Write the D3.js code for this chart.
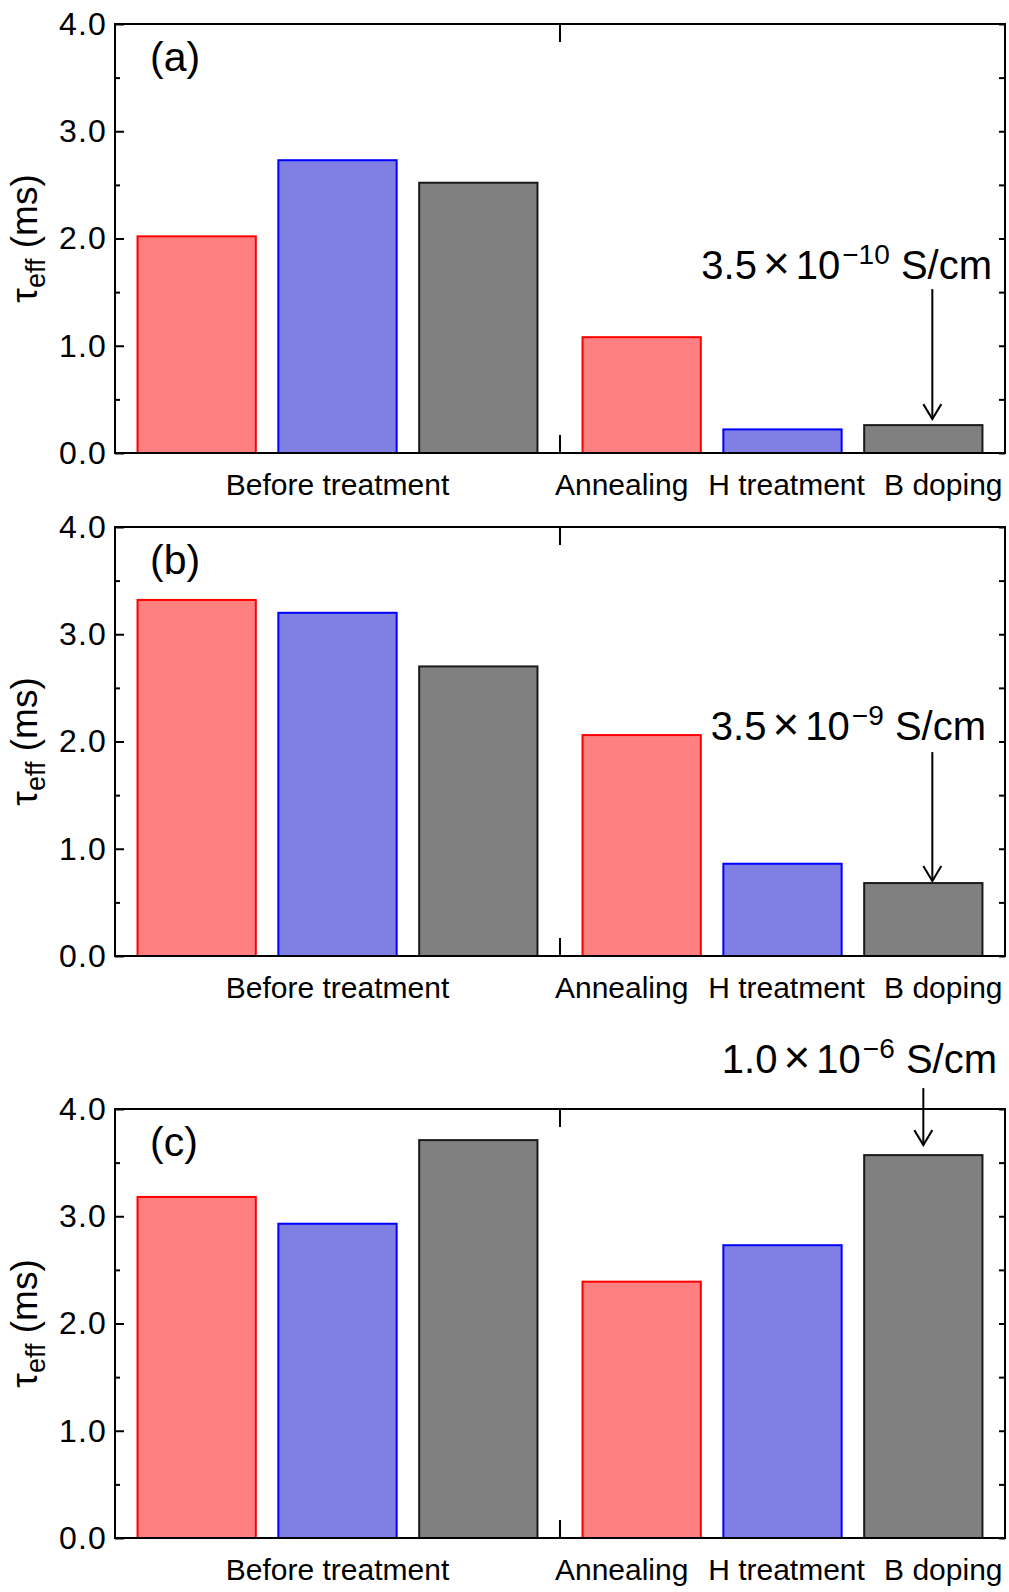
<!DOCTYPE html>
<html>
<head>
<meta charset="utf-8">
<script src="https://cdn.jsdelivr.net/npm/d3@7"></script>
<style>
  html, body { margin: 0; padding: 0; background: #fff; }
  svg { display: block; font-family: "Liberation Sans", Arial, sans-serif; }
</style>
</head>
<body>
<svg id="chart" width="1009" height="1592"></svg>
<script>
// ---------- data ----------
const panelLabels = ["(a)", "(b)", "(c)"];
const groupLabels = ["Before treatment", "After"];
const treatmentLabels = ["Annealing", "H treatment", "B doping"];
const beforeValues = [
  [2.02, 2.73, 2.52],
  [3.32, 3.20, 2.70],
  [3.18, 2.93, 3.71]
];
const afterValues = [
  [1.08, 0.22, 0.26],
  [2.06, 0.86, 0.68],
  [2.39, 2.73, 3.57]
];
const yTickValues = [0, 1, 2, 3, 4];
const yMinorValues = [0.5, 1.5, 2.5, 3.5];
const annotationMantissa = ["3.5", "3.5", "1.0"];
const annotationExponent = ["\u221210", "\u22129", "\u22126"];
const annotationUnit = "S/cm";

// ---------- style / layout ----------
const fills = ["#FF8080", "#8080E4", "#808080"];
const strokes = ["#FF0000", "#0000FF", "#1a1a1a"];
const panelTops = [24, 527, 1109];
const panelH = 429;
const left = 115, right = 1005;
const arrowLayout = [
  { dx: 9, len: 130, gap: 6, textY: 279, textRight: 992 },
  { dx: 9, len: 129, gap: 2, textY: 740, textRight: 986 },
  { dx: 0, len: 57, gap: 10, textY: 1073, textRight: 997 }
];
const labelDx = [-20, 4, 20];

const svg = d3.select("#chart");
svg.append("rect").attr("width", 1009).attr("height", 1592).attr("fill", "#fff");

const xGroup = d3.scaleBand().domain(groupLabels).range([left, right]).padding(0);
const xInner = d3.scaleBand().domain([0, 1, 2]).range([0, xGroup.bandwidth()]).padding(0.16);
const mid = xGroup(groupLabels[1]);

panelLabels.forEach((pl, p) => {
  const top = panelTops[p], bottom = top + panelH;
  const y = d3.scaleLinear().domain([0, 4]).range([bottom, top]);
  const g = svg.append("g");

  // bars
  const rows = [];
  beforeValues[p].forEach((v, i) => rows.push({ grp: groupLabels[0], i, v }));
  afterValues[p].forEach((v, i) => rows.push({ grp: groupLabels[1], i, v }));
  g.selectAll("rect.bar").data(rows).join("rect")
    .attr("class", "bar")
    .attr("x", d => xGroup(d.grp) + xInner(d.i))
    .attr("width", xInner.bandwidth())
    .attr("y", d => y(d.v))
    .attr("height", d => y(0) - y(d.v))
    .attr("fill", d => fills[d.i])
    .attr("stroke", d => strokes[d.i])
    .attr("stroke-width", 2);

  // frame
  g.append("rect").attr("x", left).attr("y", top)
    .attr("width", right - left).attr("height", panelH)
    .attr("fill", "none").attr("stroke", "#000").attr("stroke-width", 2);

  // left axis (major, labelled)
  const axL = d3.axisLeft(y).tickValues(yTickValues).tickFormat(d3.format(".1f"))
    .tickSizeInner(-9).tickSizeOuter(0).tickPadding(8);
  const gl = g.append("g").attr("transform", `translate(${left},0)`).call(axL);
  gl.select(".domain").remove();
  gl.selectAll("line").attr("stroke", "#000").attr("stroke-width", 2);
  gl.selectAll("text").attr("font-size", 32).attr("letter-spacing", 1.2)
    .attr("fill", "#000").attr("font-family", "Liberation Sans, Arial, sans-serif");
  const glm = g.append("g").attr("transform", `translate(${left},0)`)
    .call(d3.axisLeft(y).tickValues(yMinorValues).tickFormat("").tickSizeInner(-5).tickSizeOuter(0));
  glm.select(".domain").remove();
  glm.selectAll("line").attr("stroke", "#000").attr("stroke-width", 2);

  // right axis ticks
  const gr = g.append("g").attr("transform", `translate(${right},0)`)
    .call(d3.axisRight(y).tickValues(yTickValues.concat(yMinorValues)).tickFormat("").tickSizeInner(-6).tickSizeOuter(0));
  gr.select(".domain").remove();
  gr.selectAll("line").attr("stroke", "#000").attr("stroke-width", 2);

  // centre ticks top & bottom
  g.append("line").attr("x1", mid).attr("x2", mid).attr("y1", bottom).attr("y2", bottom - 18)
    .attr("stroke", "#000").attr("stroke-width", 2);
  g.append("line").attr("x1", mid).attr("x2", mid).attr("y1", top).attr("y2", top + 18)
    .attr("stroke", "#000").attr("stroke-width", 2);

  // x labels
  g.append("text").attr("x", xGroup(groupLabels[0]) + xGroup.bandwidth() / 2).attr("y", bottom + 42)
    .attr("text-anchor", "middle").attr("font-size", 30).text(groupLabels[0]);
  treatmentLabels.forEach((t, i) => {
    g.append("text")
      .attr("x", xGroup(groupLabels[1]) + xInner(i) + xInner.bandwidth() / 2 + labelDx[i])
      .attr("y", bottom + 42).attr("text-anchor", "middle").attr("font-size", 30).text(t);
  });

  // panel label
  g.append("text").attr("x", 150).attr("y", top + 47).attr("font-size", 41).text(pl);

  // y label
  const yl = g.append("text")
    .attr("transform", `translate(37,${(top + bottom) / 2}) rotate(-90)`)
    .attr("text-anchor", "middle").attr("font-size", 37);
  yl.append("tspan").text("\u03C4");
  yl.append("tspan").attr("font-size", 27).attr("dy", 8).text("eff");
  yl.append("tspan").attr("dy", -8).text(" (ms)");

  // annotation
  const a = arrowLayout[p];
  const bx = xGroup(groupLabels[1]) + xInner(2) + xInner.bandwidth() / 2 + a.dx;
  const tipY = y(afterValues[p][2]) - a.gap;
  g.append("line").attr("x1", bx).attr("x2", bx).attr("y1", tipY - a.len).attr("y2", tipY)
    .attr("stroke", "#000").attr("stroke-width", 2);
  g.append("path")
    .attr("d", `M${bx - 9},${tipY - 15} L${bx},${tipY} L${bx + 9},${tipY - 15}`)
    .attr("fill", "none").attr("stroke", "#000").attr("stroke-width", 2);

  const at = g.append("text").attr("x", a.textRight).attr("y", a.textY)
    .attr("text-anchor", "end").attr("font-size", 40);
  at.append("tspan").text(annotationMantissa[p]);
  at.append("tspan").attr("font-size", 46).attr("dx", 6).text("\u00D7");
  at.append("tspan").attr("dx", 6).text("10");
  at.append("tspan").attr("font-size", 28).attr("dy", -15).attr("dx", 2).text(annotationExponent[p]);
  at.append("tspan").attr("dy", 15).text("\u00A0" + annotationUnit);
});
</script>
</body>
</html>
